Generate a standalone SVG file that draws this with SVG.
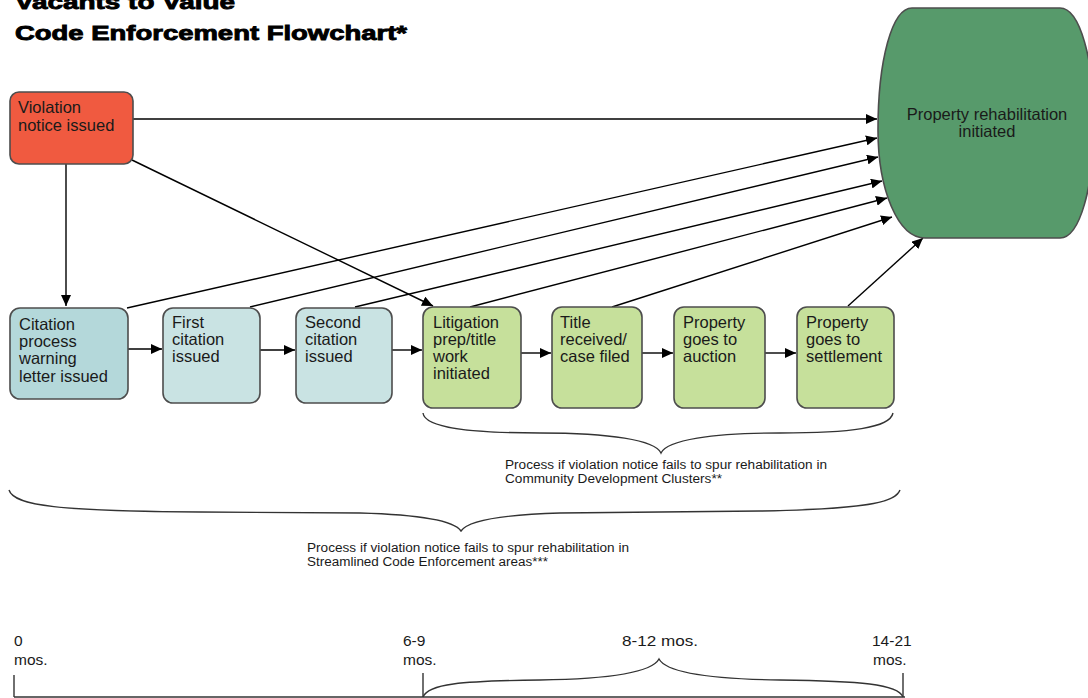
<svg xmlns="http://www.w3.org/2000/svg" width="1088" height="698" viewBox="0 0 1088 698">
<defs>
<marker id="ah" markerUnits="userSpaceOnUse" markerWidth="12" markerHeight="10" refX="11" refY="5" orient="auto"><path d="M0,0 L11,5 L0,10 Z" fill="#000"/></marker>
</defs>
<style>
.box{stroke:#4d4d4d;stroke-width:1.6}
.t{font-family:"Liberation Sans",Arial,sans-serif;font-size:16.5px;fill:#1a1a1a}
.s{font-family:"Liberation Sans",Arial,sans-serif;font-size:12px;fill:#1a1a1a}
.m{font-family:"Liberation Sans",Arial,sans-serif;font-size:15.5px;fill:#1a1a1a}
.c{fill:none;stroke:#000;stroke-width:1.4}
.br{fill:none;stroke:#333;stroke-width:1.4}
.title{font-family:"Liberation Sans",Arial,sans-serif;font-size:21px;font-weight:bold;fill:#000;stroke:#000;stroke-width:0.9}
</style>
<rect width="1088" height="698" fill="#fff"/>
<g id="title">
<text class="title" x="15" y="9" textLength="220" lengthAdjust="spacingAndGlyphs">Vacants to Value</text>
<text class="title" x="15" y="40" textLength="392" lengthAdjust="spacingAndGlyphs">Code Enforcement Flowchart*</text>
</g>
<g id="connectors">
<line class="c" x1="133" y1="119" x2="877" y2="119" marker-end="url(#ah)"/>
<line class="c" x1="66" y1="164" x2="66" y2="306" marker-end="url(#ah)"/>
<line class="c" x1="132" y1="160" x2="433" y2="306" marker-end="url(#ah)"/>
<line class="c" x1="127" y1="308" x2="877" y2="138" marker-end="url(#ah)"/>
<line class="c" x1="250" y1="307" x2="878" y2="157" marker-end="url(#ah)"/>
<line class="c" x1="355" y1="307" x2="882" y2="181" marker-end="url(#ah)"/>
<line class="c" x1="470" y1="307" x2="887" y2="198" marker-end="url(#ah)"/>
<line class="c" x1="612" y1="307" x2="892" y2="217" marker-end="url(#ah)"/>
<line class="c" x1="848" y1="306" x2="923" y2="238" marker-end="url(#ah)"/>
<line class="c" x1="128" y1="349" x2="162" y2="349" marker-end="url(#ah)"/>
<line class="c" x1="260" y1="350" x2="295" y2="350" marker-end="url(#ah)"/>
<line class="c" x1="392" y1="350" x2="422" y2="350" marker-end="url(#ah)"/>
<line class="c" x1="521" y1="353" x2="551" y2="353" marker-end="url(#ah)"/>
<line class="c" x1="642" y1="353" x2="673" y2="353" marker-end="url(#ah)"/>
<line class="c" x1="765" y1="353" x2="796" y2="353" marker-end="url(#ah)"/>
</g>
<g id="violation">
<rect class="box" x="10" y="92" width="123" height="72" rx="9" fill="#f05a40"/>
<text class="t" x="18" y="113">Violation</text>
<text class="t" x="18" y="131">notice issued</text>
</g>
<g id="rehab">
<path class="box" d="M912,8 L1060,8 C1080,8 1094,60 1094,123 C1094,186 1080,238 1060,238 L925,238 C898,238 878,190 878,130 C878,60 892,8 912,8 Z" fill="#579a6b"/>
<text class="t" x="987" y="120" text-anchor="middle" font-size="17">Property rehabilitation</text>
<text class="t" x="987" y="137" text-anchor="middle" font-size="17">initiated</text>
</g>
<g id="citation">
<rect class="box" x="10" y="308" width="118" height="91" rx="10" fill="#b4d8da"/>
<text class="t" x="19" y="330">Citation</text>
<text class="t" x="19" y="347">process</text>
<text class="t" x="19" y="364">warning</text>
<text class="t" x="19" y="382">letter issued</text>
</g>
<g id="first">
<rect class="box" x="163" y="308" width="97" height="95" rx="10" fill="#c9e3e3"/>
<text class="t" x="172" y="328">First</text>
<text class="t" x="172" y="345">citation</text>
<text class="t" x="172" y="362">issued</text>
</g>
<g id="second">
<rect class="box" x="296" y="308" width="96" height="95" rx="10" fill="#c9e3e3"/>
<text class="t" x="305" y="328">Second</text>
<text class="t" x="305" y="345">citation</text>
<text class="t" x="305" y="362">issued</text>
</g>
<g id="litigation">
<rect class="box" x="423" y="307" width="98" height="101" rx="10" fill="#c6e09b"/>
<text class="t" x="433" y="328">Litigation</text>
<text class="t" x="433" y="345">prep/title</text>
<text class="t" x="433" y="362">work</text>
<text class="t" x="433" y="379">initiated</text>
</g>
<g id="title-received">
<rect class="box" x="552" y="307" width="90" height="101" rx="10" fill="#c6e09b"/>
<text class="t" x="560" y="328">Title</text>
<text class="t" x="560" y="345">received/</text>
<text class="t" x="560" y="362">case filed</text>
</g>
<g id="auction">
<rect class="box" x="674" y="307" width="91" height="101" rx="10" fill="#c6e09b"/>
<text class="t" x="683" y="328">Property</text>
<text class="t" x="683" y="345">goes to</text>
<text class="t" x="683" y="362">auction</text>
</g>
<g id="settlement">
<rect class="box" x="797" y="307" width="97" height="101" rx="10" fill="#c6e09b"/>
<text class="t" x="806" y="328">Property</text>
<text class="t" x="806" y="345">goes to</text>
<text class="t" x="806" y="362">settlement</text>
</g>
<g id="brace-cdc">
<path class="br" d="M423,413 C425,428 470,433 540,433 C610,433 655,440 661,453 C667,440 712,433 780,433 C850,433 890,428 893,413"/>
<text class="s" x="505" y="469" textLength="322" lengthAdjust="spacingAndGlyphs">Process if violation notice fails to spur rehabilitation in</text>
<text class="s" x="505" y="483" textLength="217" lengthAdjust="spacingAndGlyphs">Community Development Clusters**</text>
</g>
<g id="brace-sce">
<path class="br" d="M9,490 C14,506 60,511 200,512 L360,513 C430,515 455,522 461,531 C467,522 492,515 560,513 L760,511 C880,509 896,500 900,490"/>
<text class="s" x="307" y="552" textLength="322" lengthAdjust="spacingAndGlyphs">Process if violation notice fails to spur rehabilitation in</text>
<text class="s" x="307" y="566" textLength="241" lengthAdjust="spacingAndGlyphs">Streamlined Code Enforcement areas***</text>
</g>
<g id="timeline">
<line class="br" x1="14" y1="697" x2="905" y2="697"/>
<line class="br" x1="14" y1="675" x2="14" y2="697"/>
<line class="br" x1="423" y1="673" x2="423" y2="697"/>
<line class="br" x1="903" y1="673" x2="903" y2="697"/>
<path class="br" d="M423,697 C428,684 460,681 540,680 C610,679 652,672 659,659 C666,672 708,679 780,680 C860,681 898,684 903,697"/>
<text class="m" x="14" y="646">0</text>
<text class="m" x="14" y="665">mos.</text>
<text class="m" x="403" y="646">6-9</text>
<text class="m" x="403" y="665">mos.</text>
<text class="m" x="622" y="646" textLength="76" lengthAdjust="spacingAndGlyphs">8-12 mos.</text>
<text class="m" x="872" y="646">14-21</text>
<text class="m" x="873" y="665">mos.</text>
</g>
</svg>
